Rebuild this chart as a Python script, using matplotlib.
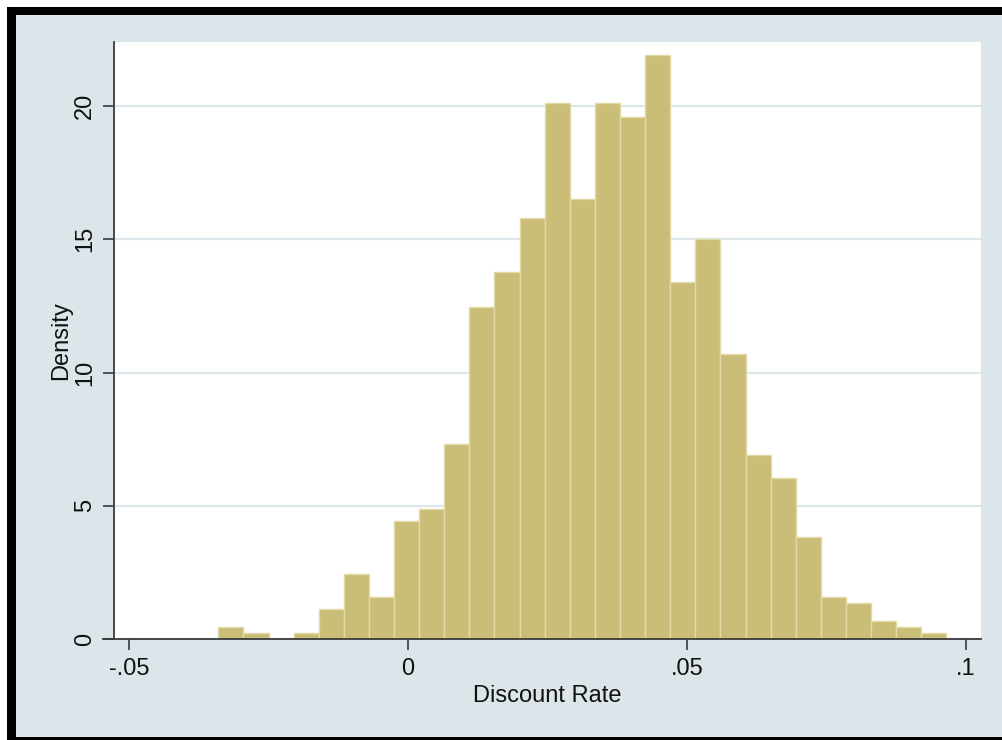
import matplotlib
matplotlib.use("Agg")
import matplotlib.pyplot as plt
from matplotlib.patches import Rectangle
from matplotlib.lines import Line2D

# ---- data ----
bin_start = -0.034
bin_width = 0.0045
density = [0.44, 0.22, 0.0, 0.22, 1.11, 2.44, 1.56, 4.44, 4.89, 7.33,
           12.44, 13.78, 15.8, 20.1, 16.5, 20.1, 19.6, 21.9, 13.4, 15.0,
           10.7, 6.9, 6.03, 3.84, 1.59, 1.36, 0.68, 0.46, 0.24]
x_ticks = [-0.05, 0, 0.05, 0.1]
x_tick_labels = ["-.05", "0", ".05", ".1"]
y_ticks = [0, 5, 10, 15, 20]
y_tick_labels = ["0", "5", "10", "15", "20"]
x_label = "Discount Rate"
y_label = "Density"

W, H = 1002, 740
plt.rcParams['font.family'] = ['Liberation Sans', 'DejaVu Sans']
bg = "#DCE5E9"
fig = plt.figure(figsize=(W / 100, H / 100), dpi=100, facecolor=bg)

def fx(px):
    return px / W

def fy(py):
    return 1 - py / H

# frame: white margin + black border (top, left, bottom)
fig.patches.append(Rectangle((0, 0), 1, 1, transform=fig.transFigure,
                             facecolor="white", edgecolor="none", zorder=-10))
fig.patches.append(Rectangle((fx(7), 0), 1 - fx(7), fy(7), transform=fig.transFigure,
                             facecolor="black", edgecolor="none", zorder=-9))
fig.patches.append(Rectangle((fx(16), fy(737)), 1 - fx(16), fy(15) - fy(737),
                             transform=fig.transFigure,
                             facecolor=bg, edgecolor="none", zorder=-8))

left, right, top, bottom = 114, 981, 42, 639
ax = fig.add_axes([fx(left), fy(bottom), fx(right) - fx(left), fy(top) - fy(bottom)])
ax.set_facecolor("white")

lefts = [bin_start + i * bin_width for i in range(len(density))]
ax.bar(lefts, density, width=bin_width, align='edge', color="#C9BD78",
       edgecolor="#E3DBA6", linewidth=1.0, zorder=3)

x0 = (left - 408) / 5580
x1 = (right - 408) / 5580
ax.set_xlim(x0, x1)
ax.set_ylim(0, (bottom - top) / 26.65)

ax.set_xticks(x_ticks)
ax.set_xticklabels(x_tick_labels)
ax.set_yticks(y_ticks)
ax.set_yticklabels(y_tick_labels, rotation=90, va='center')

for s in ["top", "right"]:
    ax.spines[s].set_visible(False)
ax.spines["bottom"].set_visible(False)
ax.spines["left"].set_color("#3a3a3a")
ax.spines["left"].set_linewidth(1.3)

ax.yaxis.grid(True, color="#DCE6EB", linewidth=1.6, zorder=0)
ax.set_axisbelow(True)

ax.tick_params(axis='both', direction='out', length=8, width=1.2,
               color="#3a3a3a", labelsize=17, labelcolor="#111111")
ax.tick_params(axis='x', pad=6)
ax.tick_params(axis='y', pad=5)

ax.set_xlabel(x_label, fontsize=17, color="#111111", labelpad=3)
ax.set_ylabel(y_label, fontsize=17, color="#111111", labelpad=1)

# x axis line extending slightly left of the plot region
fig.add_artist(Line2D([fx(103), fx(right)], [fy(bottom), fy(bottom)],
                      transform=fig.transFigure, color="#3a3a3a", linewidth=1.3,
                      zorder=5))

fig.savefig("out.png", dpi=100, facecolor=fig.get_facecolor())
